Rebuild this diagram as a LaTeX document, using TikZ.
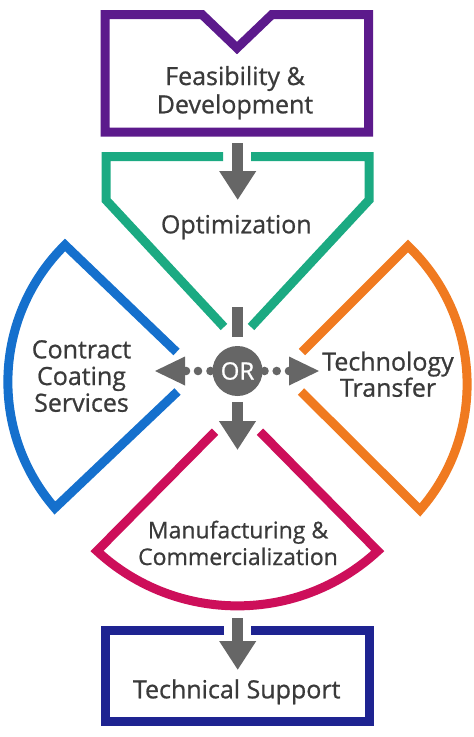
\documentclass[tikz,border=0pt]{standalone}
\usepackage{fontspec}
\setmainfont{Open Sans}
\newfontfamily\lblfont{Open Sans}[FakeBold=0.8]
\usetikzlibrary{arrows.meta}
\definecolor{cpurple}{HTML}{5C1A8C}
\definecolor{cgreen}{HTML}{1BAA82}
\definecolor{cblue}{HTML}{1570CD}
\definecolor{corange}{HTML}{F07A20}
\definecolor{cmagenta}{HTML}{CD0F5A}
\definecolor{cnavy}{HTML}{1E2391}
\definecolor{cgray}{HTML}{666666}
\definecolor{ctext}{HTML}{3A3A3A}
\begin{document}
\begin{tikzpicture}[x=1pt,y=-1pt,
  outl/.style={line width=9pt, line join=miter},
  lbl/.style={text=ctext, align=center, anchor=base, inner sep=0pt},
  arr/.style={draw=cgray, line width=10.5pt, -{Triangle[width=35pt,length=29pt]}},
  dotc/.style={fill=cgray},
  headc/.style={fill=cgray}]
\useasboundingbox (0,0) rectangle (474,737);
% shapes
\draw[outl, cpurple] (105,14.5) -- (202,14.5) -- (237,48) -- (272,14.5) -- (368.5,14.5) -- (368.5,132) -- (105,132) -- cycle;
\draw[outl, cgreen] (223,156.5) -- (106,156.5) -- (106,200) -- (224,327);
\draw[outl, cgreen] (251,156.5) -- (369,156.5) -- (369,200) -- (251,327);
\draw[outl, cblue] (176.5,352) -- (65,245) arc[start angle=134.7, end angle=220.9, radius=192.6pt] -- (177.5,391.5);
\draw[outl, corange] (302,352) -- (408,246) arc[start angle=46.3, end angle=-41.1, radius=191.2pt] -- (301,391.5);
\draw[outl, cmagenta] (215,431.7) -- (97,551) arc[start angle=227.3, end angle=312.7, radius=207pt] -- (260,431.7);
\draw[outl, cnavy] (224,630) -- (105,630) -- (105,721) -- (369,721) -- (369,630) -- (250.7,630);
% labels (anchor=base is the last line)
\node[lbl, font=\lblfont\fontsize{25}{28.3}\selectfont] (feas) at (235,113.3) {Feasibility \&\\Development};
\node[lbl, font=\lblfont\fontsize{25}{28.3}\selectfont] (opt) at (236.3,233.3) {Optimization};
\node[lbl, font=\lblfont\fontsize{25}{26.7}\selectfont] (ccs) at (81.5,411.7) {Contract\\Coating\\Services};
\node[lbl, font=\lblfont\fontsize{25}{25}\selectfont] (tt) at (388,396.7) {Technology\\Transfer};
\node[lbl, font=\lblfont\fontsize{23}{26.7}\selectfont] (manu) at (238,565) {Manufacturing \&\\Commercialization};
\node[lbl, font=\lblfont\fontsize{25}{28}\selectfont] (ts) at (236.7,698.3) {Technical Support};
\node[circle, fill=cgray, minimum size=50pt, inner sep=0pt, text=white, font=\lblfont\fontsize{24}{24}\selectfont] (or) at (237.5,371) {OR};
% arrows
\coordinate (a1s) at (237.7,143);
\coordinate (a1e) at (237.7,200);
\draw[arr] (a1s) -- (a1e);
\coordinate (stubs) at (237.5,307);
\draw[cgray, line width=11.5pt] (stubs) -- ([yshift=9pt]or.north);
\coordinate (a2e) at (237.5,450);
\draw[arr, line width=11.5pt] ([yshift=-5.7pt]or.south) -- (a2e);
\coordinate (a3s) at (237.7,618);
\coordinate (a3e) at (237.7,670);
\draw[arr] (a3s) -- (a3e);
% left / right dotted arrows
\fill[headc] (185,356.5) -- (155,371) -- (185,385.5) -- cycle;
\fill[dotc] (186,371) circle[radius=4.3pt];
\fill[dotc] (198,371) circle[radius=4.3pt];
\fill[dotc] (210.5,371) circle[radius=4.3pt];
\fill[headc] (289,356.5) -- (319,371) -- (289,385.5) -- cycle;
\fill[dotc] (264.5,371) circle[radius=4.3pt];
\fill[dotc] (276.7,371) circle[radius=4.3pt];
\fill[dotc] (289,371) circle[radius=4.3pt];
\end{tikzpicture}
\end{document}
